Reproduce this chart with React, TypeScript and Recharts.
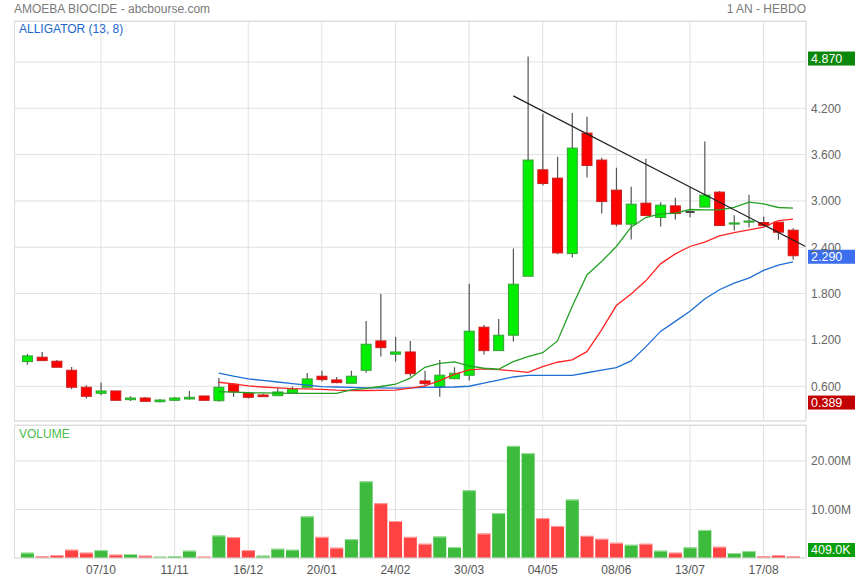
import React from 'react';
import { ComposedChart, Bar, Line, XAxis, YAxis, CartesianGrid, ReferenceLine } from 'recharts';

// weekly candles, 02/09/2019 -> 31/08/2020
const TICK_INDEX = [5, 10, 15, 20, 25, 30, 35, 40, 45, 50];
const TICK_LABELS = ['07/10', '11/11', '16/12', '20/01', '24/02', '30/03', '04/05', '08/06', '13/07', '17/08'];
const PRICE_TICKS = [0.6, 1.2, 1.8, 2.4, 3.0, 3.6, 4.2, 4.8];
const VOLUME_TICKS = [10, 20];

const OPEN = [
  0.919, 0.976, 0.924, 0.807, 0.587, 0.509, 0.539, 0.426, 0.448, 0.4, 0.418, 0.435, 0.474, 0.413, 0.626, 0.509, 0.487, 0.478,
  0.513, 0.587, 0.73, 0.682, 0.639, 0.807, 1.187, 1.015, 1.044, 0.669, 0.595, 0.698, 0.742, 1.365, 1.061, 1.261, 2.025, 3.403,
  3.295, 2.318, 3.878, 3.529, 3.14, 2.699, 2.971, 2.785, 2.936, 2.855, 2.92, 3.114, 2.7, 2.725, 2.72, 2.725, 2.621,
];
const HIGH = [
  1.019, 1.044, 0.941, 0.85, 0.613, 0.647, 0.539, 0.47, 0.461, 0.435, 0.461, 0.539, 0.474, 0.708, 0.639, 0.52, 0.504, 0.574,
  0.595, 0.772, 0.8, 0.72, 0.8, 1.446, 1.796, 1.239, 1.187, 0.8, 0.941, 0.846, 1.926, 1.394, 1.472, 2.383, 4.87, 4.128,
  3.571, 4.14, 4.09, 3.558, 3.429, 3.183, 3.545, 2.984, 3.04, 3.186, 3.77, 3.127, 2.816, 3.079, 2.798, 2.725, 2.647,
];
const LOW = [
  0.88, 0.932, 0.846, 0.561, 0.44, 0.483, 0.418, 0.41, 0.405, 0.389, 0.418, 0.426, 0.418, 0.4, 0.465, 0.44, 0.465, 0.478,
  0.513, 0.587, 0.66, 0.639, 0.639, 0.776, 0.984, 0.919, 0.725, 0.595, 0.465, 0.69, 0.673, 1.01, 1.061, 1.178, 2.025, 3.2,
  2.31, 2.266, 3.303, 2.837, 2.668, 2.5, 2.8, 2.668, 2.759, 2.79, 2.92, 2.681, 2.616, 2.655, 2.668, 2.496, 2.237,
];
const CLOSE = [
  0.993, 0.932, 0.846, 0.587, 0.47, 0.539, 0.418, 0.448, 0.405, 0.422, 0.448, 0.457, 0.418, 0.587, 0.526, 0.457, 0.465, 0.526,
  0.561, 0.695, 0.686, 0.647, 0.73, 1.144, 1.1, 1.044, 0.763, 0.634, 0.743, 0.768, 1.313, 1.061, 1.261, 1.922, 3.529, 3.225,
  2.327, 3.684, 3.459, 2.992, 2.699, 2.958, 2.811, 2.945, 2.837, 2.855, 3.075, 2.681, 2.715, 2.74, 2.68, 2.595, 2.29,
];
// millions of shares
const VOLUME = [
  1.09, 0.34, 0.61, 1.7, 1.09, 1.63, 0.68, 0.82, 0.48, 0.27, 0.41, 1.5, 0.27, 4.63, 4.29, 1.63, 0.48, 1.9, 1.7, 8.57, 4.35,
  2.11, 3.88, 15.78, 11.29, 7.62, 4.35, 2.93, 4.42, 2.24, 13.95, 5.03, 9.25, 23.1, 21.6, 8.23, 6.6, 12.04, 4.56, 3.95, 3.13,
  2.72, 2.93, 1.5, 1.09, 2.18, 5.78, 2.31, 1.02, 1.43, 0.34, 0.61, 0.409,
];

// alligator (13, 8), starts at week 13
const ALLIGATOR_START = 13;
const JAW = [
  0.77, 0.73, 0.695, 0.675, 0.655, 0.635, 0.615, 0.595, 0.59, 0.585, 0.58, 0.58, 0.575, 0.58, 0.585, 0.587, 0.59, 0.6, 0.64,
  0.68, 0.72, 0.742, 0.742, 0.742, 0.742, 0.775, 0.808, 0.841, 0.928, 1.11, 1.31, 1.44, 1.57, 1.73, 1.85, 1.935, 2.0, 2.1,
  2.17, 2.21,
];
const TEETH = [
  0.652, 0.63, 0.604, 0.59, 0.58, 0.57, 0.565, 0.56, 0.55, 0.545, 0.545, 0.547, 0.55, 0.575, 0.604, 0.673, 0.755, 0.811,
  0.824, 0.815, 0.8, 0.781, 0.854, 0.911, 0.941, 1.048, 1.33, 1.645, 1.796, 1.965, 2.185, 2.314, 2.41, 2.466, 2.548, 2.59,
  2.625, 2.66, 2.746, 2.764,
];
const LIPS = [
  0.53, 0.525, 0.517, 0.513, 0.51, 0.509, 0.509, 0.509, 0.509, 0.552, 0.573, 0.597, 0.626, 0.704, 0.846, 0.895, 0.915,
  0.865, 0.833, 0.82, 0.919, 0.984, 1.035, 1.187, 1.632, 2.042, 2.215, 2.41, 2.66, 2.785, 2.833, 2.842, 2.889, 2.885,
  2.885, 2.915, 2.984, 2.962, 2.915, 2.906,
];

const TREND = [
  { i: 33, v: 4.36 },
  { i: 52.85, v: 2.41 },
];

const rows = OPEN.map((open, i) => {
  const k = i - ALLIGATOR_START;
  return {
    i,
    open,
    high: HIGH[i],
    low: LOW[i],
    close: CLOSE[i],
    range: [LOW[i], HIGH[i]],
    vol: VOLUME[i],
    up: i === 0 ? CLOSE[i] >= open : CLOSE[i] >= CLOSE[i - 1],
    jaw: k >= 0 ? JAW[k] : null,
    teeth: k >= 0 ? TEETH[k] : null,
    lips: k >= 0 ? LIPS[k] : null,
  };
});

const maxHigh = Math.max(...HIGH);
const minLow = Math.min(...LOW);
const lastClose = CLOSE[CLOSE.length - 1];
const lastVol = VOLUME[VOLUME.length - 1];

const FONT = '"Liberation Sans", Arial, sans-serif';
const X_DOMAIN: [number, number] = [-0.87, 52.88];
const tickLabel = (v: number) => TICK_LABELS[TICK_INDEX.indexOf(v)] ?? '';

function Candle(props: any) {
  const { x, y, width, height, payload } = props;
  if (x == null || !payload) return null;
  const { open, close, high, low } = payload;
  const top = Math.min(y, y + height);
  const span = Math.abs(height);
  const py = (v: number) => (high === low ? top : top + ((high - v) / (high - low)) * span);
  const cx = x + width / 2;
  const bodyTop = py(Math.max(open, close));
  const bodyH = Math.max(py(Math.min(open, close)) - bodyTop, 0.8);
  const flat = open === close;
  const up = close > open;
  const fill = up ? '#00ee00' : '#ff0000';
  const stroke = up ? '#38a038' : '#c82020';
  return (
    <g>
      <line x1={cx} x2={cx} y1={top} y2={top + span} stroke="#555" strokeWidth={1.2} />
      {flat ? (
        <line x1={x + 1} x2={x + width - 1} y1={bodyTop} y2={bodyTop} stroke="#4a4a4a" strokeWidth={2} />
      ) : (
        <rect x={x + 0.5} y={bodyTop} width={width - 1} height={bodyH} fill={fill} stroke={stroke} strokeWidth={1} />
      )}
    </g>
  );
}

function VolBar(props: any) {
  const { x, y, width, height, payload } = props;
  if (x == null || !payload || height <= 0) return null;
  const up = payload.up;
  return (
    <g>
      <rect x={x} y={y} width={width} height={height} fill={up ? '#3dbb3d' : '#ff4242'} />
      <rect x={x} y={y} width={width} height={1} fill={up ? '#9be09b' : '#ffa0a0'} />
    </g>
  );
}

function Badge(props: any) {
  const { viewBox, text, fill, dy = 0 } = props;
  if (!viewBox) return null;
  const x = viewBox.x + viewBox.width + 2;
  const cy = viewBox.y + dy;
  return (
    <g>
      <rect x={x} y={cy - 7} width={47} height={14} fill={fill} />
      <text x={x + 3} y={cy + 4.4} fill="#fff" fontSize={12.5} fontFamily={FONT}>
        {text}
      </text>
    </g>
  );
}

export default function App() {
  return (
    <div style={{ position: 'relative', width: 855, height: 580, background: '#fff', fontFamily: FONT }}>
      <style>{'body{margin:0}'}</style>

      <div style={{ position: 'absolute', left: 0, top: 0 }}>
        <ComposedChart width={855} height={424} data={rows} margin={{ top: 21, right: 0, bottom: 3, left: 14.5 }}>
          <CartesianGrid stroke="#e0e0e0" />
          <XAxis dataKey="i" type="number" domain={X_DOMAIN} ticks={TICK_INDEX} allowDataOverflow hide />
          <YAxis
            orientation="right"
            domain={[0.15, 5.33]}
            ticks={PRICE_TICKS}
            allowDataOverflow
            width={49}
            axisLine={false}
            tickLine={false}
            tickSize={4}
            tickMargin={1}
            tick={{ fill: '#666', fontSize: 12, fontFamily: FONT }}
            tickFormatter={(v: number) => (v === 4.8 ? '' : v.toFixed(3))}
          />
          <Line dataKey="jaw" stroke="#1f6ed4" strokeWidth={1.3} dot={false} isAnimationActive={false} />
          <Line dataKey="teeth" stroke="#ff2424" strokeWidth={1.3} dot={false} isAnimationActive={false} />
          <Line dataKey="lips" stroke="#23a023" strokeWidth={1.3} dot={false} isAnimationActive={false} />
          <Bar dataKey="range" barSize={11} shape={<Candle />} isAnimationActive={false} />
          <ReferenceLine
            segment={[
              { x: TREND[0].i, y: TREND[0].v },
              { x: TREND[1].i, y: TREND[1].v },
            ]}
            stroke="#222"
            strokeWidth={1.2}
            ifOverflow="visible"
          />
          <ReferenceLine y={maxHigh} stroke="none" label={<Badge text={maxHigh.toFixed(3)} fill="#0b870b" dy={2} />} />
          <ReferenceLine y={lastClose} stroke="none" label={<Badge text={lastClose.toFixed(3)} fill="#3b6ff0" dy={1} />} />
          <ReferenceLine y={minLow} stroke="none" label={<Badge text={minLow.toFixed(3)} fill="#c20000" />} />
        </ComposedChart>
      </div>

      <div style={{ position: 'absolute', left: 0, top: 424 }}>
        <ComposedChart width={855} height={156} data={rows} margin={{ top: 1, right: 0, bottom: 0, left: 14.5 }}>
          <CartesianGrid stroke="#e0e0e0" />
          <XAxis
            dataKey="i"
            type="number"
            domain={X_DOMAIN}
            ticks={TICK_INDEX}
            allowDataOverflow
            height={22}
            axisLine={false}
            tickLine={false}
            tickSize={6}
            tickMargin={1.5}
            tick={{ fill: '#555', fontSize: 12, fontFamily: FONT }}
            tickFormatter={tickLabel}
          />
          <YAxis
            orientation="right"
            domain={[0, 27.4]}
            ticks={VOLUME_TICKS}
            allowDataOverflow
            width={49}
            axisLine={false}
            tickLine={false}
            tickSize={4}
            tickMargin={1}
            tick={{ fill: '#666', fontSize: 12, fontFamily: FONT }}
            tickFormatter={(v: number) => v.toFixed(2) + 'M'}
          />
          <Bar dataKey="vol" barSize={13} shape={<VolBar />} isAnimationActive={false} />
          <ReferenceLine
            y={lastVol}
            stroke="none"
            label={<Badge text={(lastVol * 1000).toFixed(1) + 'K'} fill="#0a9e0a" dy={-6} />}
          />
        </ComposedChart>
      </div>

      <svg width={855} height={580} style={{ position: 'absolute', left: 0, top: 0, pointerEvents: 'none' }}>
        <rect x={14.5} y={21.5} width={791.5} height={399.5} fill="none" stroke="#dcdcdc" />
        <rect x={14.5} y={425.5} width={791.5} height={132.5} fill="none" stroke="#dcdcdc" />
        <text x={14} y={13.3} fontSize={12} fill="#7a7a7a" fontFamily={FONT}>
          AMOEBA BIOCIDE - abcbourse.com
        </text>
        <text x={806} y={13.3} fontSize={12} fill="#7a7a7a" fontFamily={FONT} textAnchor="end">
          1 AN - HEBDO
        </text>
        <text x={19} y={32.6} fontSize={12} fill="#1a66cc" fontFamily={FONT}>
          ALLIGATOR (13, 8)
        </text>
        <text x={19} y={438} fontSize={12} fill="#4cbb4c" fontFamily={FONT}>
          VOLUME
        </text>
      </svg>
    </div>
  );
}
